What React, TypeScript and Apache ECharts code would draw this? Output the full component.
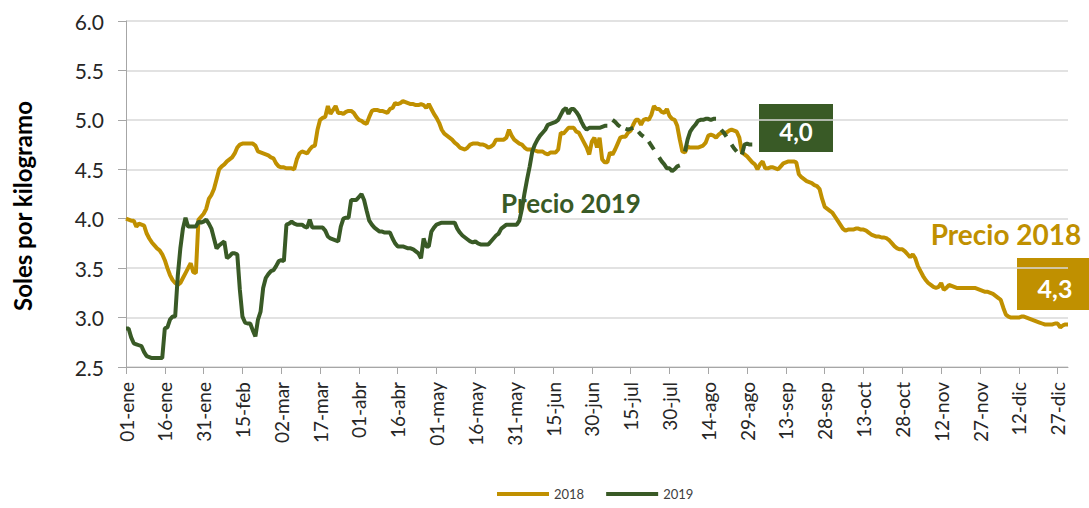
import React, { useEffect, useRef } from "react";
import * as echarts from "echarts";

const MONTHS = ["ene", "feb", "mar", "abr", "may", "jun", "jul", "ago", "sep", "oct", "nov", "dic"];
const MONTH_DAYS = [31, 28, 31, 30, 31, 30, 31, 31, 30, 31, 30, 31];

const Y_MIN = 2.5;
const Y_MAX = 6.0;
const Y_STEP = 0.5;

const PRICE_2018: number[] = [
  4.00, 3.99, 3.98, 3.98, 3.92, 3.95, 3.94, 3.93, 3.85, 3.80,
  3.76, 3.73, 3.70, 3.68, 3.64, 3.58, 3.50, 3.43, 3.38, 3.35,
  3.33, 3.35, 3.40, 3.45, 3.50, 3.55, 3.46, 3.45, 3.99, 4.02,
  4.05, 4.10, 4.20, 4.24, 4.30, 4.40, 4.50, 4.53, 4.55, 4.58,
  4.60, 4.62, 4.66, 4.72, 4.75, 4.76, 4.76, 4.76, 4.76, 4.76,
  4.74, 4.68, 4.67, 4.66, 4.65, 4.64, 4.62, 4.61, 4.56, 4.53,
  4.52, 4.52, 4.51, 4.51, 4.51, 4.50, 4.60, 4.66, 4.68, 4.67,
  4.66, 4.70, 4.73, 4.74, 4.90, 5.00, 5.02, 5.03, 5.14, 5.06,
  5.10, 5.14, 5.07, 5.07, 5.06, 5.08, 5.09, 5.09, 5.07, 5.03,
  5.00, 4.99, 4.97, 4.96, 5.03, 5.09, 5.10, 5.10, 5.09, 5.09,
  5.08, 5.07, 5.11, 5.12, 5.17, 5.16, 5.17, 5.19, 5.18, 5.17,
  5.16, 5.16, 5.15, 5.15, 5.16, 5.15, 5.12, 5.16, 5.11, 5.06,
  5.02, 4.97, 4.90, 4.86, 4.84, 4.82, 4.80, 4.77, 4.75, 4.72,
  4.71, 4.70, 4.72, 4.75, 4.76, 4.76, 4.76, 4.75, 4.75, 4.74,
  4.72, 4.73, 4.75, 4.80, 4.80, 4.80, 4.80, 4.82, 4.90, 4.84,
  4.80, 4.78, 4.76, 4.75, 4.72, 4.70, 4.70, 4.70, 4.69, 4.68,
  4.68, 4.68, 4.66, 4.65, 4.67, 4.67, 4.67, 4.70, 4.87, 4.86,
  4.89, 4.92, 4.92, 4.92, 4.88, 4.87, 4.82, 4.77, 4.72, 4.65,
  4.78, 4.82, 4.72, 4.82, 4.60, 4.57, 4.57, 4.67, 4.65, 4.70,
  4.76, 4.82, 4.83, 4.83, 4.87, 4.89, 4.95, 5.00, 5.00, 4.95,
  5.00, 5.01, 5.00, 5.05, 5.14, 5.11, 5.11, 5.08, 5.07, 5.11,
  5.04, 5.01, 5.00, 4.94, 4.80, 4.68, 4.67, 4.73, 4.72, 4.72,
  4.72, 4.72, 4.73, 4.74, 4.77, 4.84, 4.85, 4.84, 4.82, 4.85,
  4.87, 4.87, 4.87, 4.89, 4.90, 4.89, 4.88, 4.82, 4.67, 4.65,
  4.63, 4.60, 4.57, 4.55, 4.50, 4.55, 4.58, 4.51, 4.51, 4.52,
  4.52, 4.51, 4.50, 4.53, 4.56, 4.57, 4.58, 4.58, 4.58, 4.57,
  4.45, 4.42, 4.40, 4.38, 4.37, 4.36, 4.34, 4.33, 4.30, 4.20,
  4.12, 4.10, 4.08, 4.06, 4.02, 3.98, 3.94, 3.90, 3.88, 3.89,
  3.89, 3.89, 3.90, 3.90, 3.89, 3.89, 3.88, 3.86, 3.84, 3.83,
  3.82, 3.82, 3.81, 3.81, 3.80, 3.78, 3.75, 3.72, 3.70, 3.69,
  3.69, 3.67, 3.64, 3.61, 3.64, 3.60, 3.52, 3.47, 3.42, 3.38,
  3.35, 3.33, 3.31, 3.30, 3.31, 3.35, 3.28, 3.30, 3.33, 3.32,
  3.31, 3.30, 3.30, 3.30, 3.30, 3.30, 3.30, 3.30, 3.30, 3.29,
  3.28, 3.27, 3.26, 3.26, 3.25, 3.24, 3.22, 3.20, 3.18, 3.10,
  3.03, 3.01, 3.00, 3.00, 3.00, 3.00, 3.01, 3.01, 3.00, 2.99,
  2.98, 2.97, 2.96, 2.95, 2.94, 2.93, 2.93, 2.93, 2.93, 2.94,
  2.94, 2.90, 2.92, 2.93, 2.93,
];

const PRICE_2019: (number | null)[] = [
  2.89, 2.89, 2.80, 2.74, 2.73, 2.72, 2.71, 2.65, 2.61, 2.60,
  2.59, 2.59, 2.59, 2.59, 2.59, 2.89, 2.90, 2.98, 3.01, 3.01,
  3.42, 3.70, 3.90, 4.01, 3.92, 3.92, 3.92, 3.92, 3.97, 3.96,
  3.97, 3.99, 3.95, 3.90, 3.80, 3.70, 3.73, 3.75, 3.77, 3.60,
  3.62, 3.65, 3.65, 3.64, 3.28, 3.01, 2.95, 2.94, 2.94, 2.87,
  2.81, 2.98, 3.06, 3.30, 3.40, 3.44, 3.47, 3.48, 3.52, 3.57,
  3.58, 3.57, 3.94, 3.95, 3.97, 3.95, 3.94, 3.94, 3.94, 3.92,
  3.91, 3.99, 3.91, 3.91, 3.91, 3.91, 3.91, 3.88, 3.82, 3.80,
  3.79, 3.78, 3.77, 3.92, 4.00, 4.01, 4.01, 4.19, 4.19, 4.19,
  4.22, 4.25, 4.19, 4.08, 3.98, 3.94, 3.91, 3.89, 3.87, 3.87,
  3.86, 3.86, 3.86, 3.80, 3.75, 3.72, 3.72, 3.72, 3.71, 3.70,
  3.70, 3.69, 3.67, 3.65, 3.60, 3.80, 3.72, 3.72, 3.87, 3.91,
  3.94, 3.95, 3.96, 3.96, 3.96, 3.96, 3.96, 3.96, 3.90, 3.86,
  3.83, 3.81, 3.79, 3.77, 3.76, 3.77, 3.75, 3.74, 3.74, 3.74,
  3.74, 3.77, 3.80, 3.83, 3.85, 3.90, 3.92, 3.94, 3.94, 3.94,
  3.94, 3.94, 3.98, 4.10, 4.26, 4.40, 4.53, 4.68, 4.75, 4.80,
  4.84, 4.87, 4.90, 4.95, 4.96, 4.97, 4.98, 5.00, 5.05, 5.10,
  5.12, 5.06, 5.11, 5.11, 5.08, 5.04, 4.98, 4.93, 4.90, 4.92,
  4.92, 4.92, 4.92, 4.92, 4.93, 4.94, 4.94, null, 5.00, 4.98,
  4.95, 4.93, null, 4.91, 4.90, 4.91, 4.92, null, 4.88, 4.85,
  4.83, null, 4.78, 4.74, 4.70, null, 4.62, 4.58, 4.55, 4.51,
  4.51, 4.48, 4.50, 4.53, 4.54, null, 4.68, 4.80, 4.88, 4.92,
  4.95, 4.99, 5.00, 5.00, 5.01, 5.01, 5.00, 5.01, 5.01, null,
  4.90, 4.87, 4.83, null, 4.75, 4.71, 4.68, null, 4.65, 4.75,
  4.76, 4.75, 4.75,
];

const SERIES_NAMES = ["2018", "2019"];
const ANNOTATION_2019 = "Precio 2019";
const ANNOTATION_2018 = "Precio 2018";
const BADGE_2019 = "4,0";
const BADGE_2018 = "4,3";
const Y_AXIS_TITLE = "Soles por kilogramo";

const GOLD = "#C09000";
const GREEN = "#395A26";
const FONT = "Lato, 'Open Sans', sans-serif";

function buildCategories(): string[] {
  const out: string[] = [];
  MONTHS.forEach((m, i) => {
    for (let d = 1; d <= MONTH_DAYS[i]; d++) {
      out.push(String(d).padStart(2, "0") + "-" + m);
    }
  });
  return out;
}

export default function App() {
  const ref = useRef<HTMLDivElement>(null);

  useEffect(() => {
    if (!ref.current) return;
    const chart = echarts.init(ref.current, undefined, { renderer: "svg" });
    const categories = buildCategories();

    chart.setOption({
      animation: false,
      backgroundColor: "#ffffff",
      textStyle: { fontFamily: FONT },
      grid: { left: 126, right: 21, top: 21, bottom: 141 },
      legend: {
        data: SERIES_NAMES,
        left: 497,
        top: 486,
        padding: 0,
        icon: "rect",
        itemWidth: 52,
        itemHeight: 4,
        itemGap: 22,
        textStyle: { fontSize: 13, lineHeight: 16, color: "#404040", fontFamily: FONT },
      },
      xAxis: {
        type: "category",
        data: categories,
        boundaryGap: false,
        axisLine: { lineStyle: { color: "#A6A6A6", width: 1 } },
        axisTick: { show: true, interval: 14, length: 7, lineStyle: { color: "#A6A6A6" } },
        axisLabel: {
          interval: 14,
          rotate: 90,
          margin: 15,
          fontSize: 19,
          color: "#262626",
          fontFamily: FONT,
        },
        splitLine: { show: false },
      },
      yAxis: {
        type: "value",
        min: Y_MIN,
        max: Y_MAX,
        interval: Y_STEP,
        axisLine: { show: true, lineStyle: { color: "#A6A6A6", width: 1 } },
        axisTick: { show: true, length: 8, lineStyle: { color: "#A6A6A6" } },
        axisLabel: {
          margin: 22,
          fontSize: 21,
          color: "#262626",
          fontFamily: FONT,
          formatter: (v: number) => v.toFixed(1),
        },
        splitLine: { show: true, lineStyle: { color: "#D9D9D9", width: 1.5 } },
      },
      series: [
        {
          name: SERIES_NAMES[0],
          type: "line",
          data: PRICE_2018,
          symbol: "none",
          showSymbol: false,
          connectNulls: false,
          lineStyle: { color: GOLD, width: 4 },
          itemStyle: { color: GOLD },
        },
        {
          name: SERIES_NAMES[1],
          type: "line",
          data: PRICE_2019,
          symbol: "none",
          showSymbol: false,
          connectNulls: false,
          lineStyle: { color: GREEN, width: 4 },
          itemStyle: { color: GREEN },
        },
      ],
      graphic: [
        {
          type: "text",
          x: 22,
          y: 206,
          rotation: Math.PI / 2,
          style: {
            text: Y_AXIS_TITLE,
            font: `bold 24px ${FONT}`,
            fill: "#000000",
            align: "center",
            verticalAlign: "middle",
          },
        },
        {
          type: "text",
          x: 571,
          y: 203,
          style: {
            text: ANNOTATION_2019,
            font: `bold 26px ${FONT}`,
            fill: GREEN,
            align: "center",
            verticalAlign: "middle",
          },
        },
        {
          type: "text",
          x: 1006,
          y: 234,
          style: {
            text: ANNOTATION_2018,
            font: `bold 28px ${FONT}`,
            fill: GOLD,
            align: "center",
            verticalAlign: "middle",
          },
        },
        {
          type: "rect",
          shape: { x: 759, y: 104, width: 74, height: 48 },
          style: { fill: GREEN },
        },
        {
          type: "text",
          x: 796,
          y: 131,
          style: {
            text: BADGE_2019,
            font: `bold 24px ${FONT}`,
            fill: "#ffffff",
            align: "center",
            verticalAlign: "middle",
          },
        },
        {
          type: "rect",
          shape: { x: 1017, y: 258, width: 80, height: 52 },
          style: { fill: GOLD },
        },
        {
          type: "text",
          x: 1055,
          y: 288,
          style: {
            text: BADGE_2018,
            font: `bold 25px ${FONT}`,
            fill: "#ffffff",
            align: "center",
            verticalAlign: "middle",
          },
        },
      ],
    });

    return () => chart.dispose();
  }, []);

  return (
    <div
      ref={ref}
      style={{ position: "fixed", left: 0, top: 0, width: 1089, height: 508 }}
    />
  );
}
